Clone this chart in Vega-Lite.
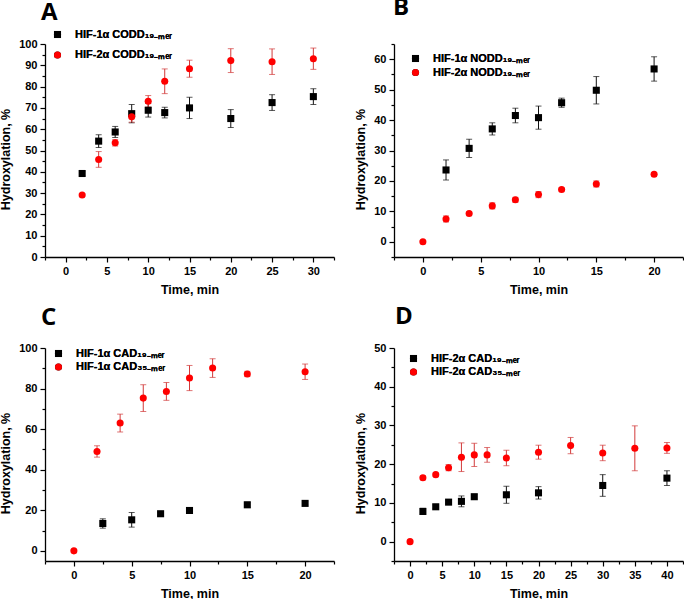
{
  "$schema": "https://vega.github.io/schema/vega-lite/v6.json",
  "padding": {"left": -1, "top": -4, "right": 0, "bottom": 0},
  "background": "white",
  "datasets": {
    "A": [
      {"t": 2, "v": 39.2, "e": 1.0, "s": "HIF-1α CODD₁₉₋ₘₑᵣ"},
      {"t": 4, "v": 54.4, "e": 3.0, "s": "HIF-1α CODD₁₉₋ₘₑᵣ"},
      {"t": 6, "v": 58.7, "e": 2.6, "s": "HIF-1α CODD₁₉₋ₘₑᵣ"},
      {"t": 8, "v": 67.3, "e": 4.3, "s": "HIF-1α CODD₁₉₋ₘₑᵣ"},
      {"t": 10, "v": 68.9, "e": 3.2, "s": "HIF-1α CODD₁₉₋ₘₑᵣ"},
      {"t": 12, "v": 67.8, "e": 2.5, "s": "HIF-1α CODD₁₉₋ₘₑᵣ"},
      {"t": 15, "v": 70.0, "e": 5.0, "s": "HIF-1α CODD₁₉₋ₘₑᵣ"},
      {"t": 20, "v": 65.0, "e": 4.2, "s": "HIF-1α CODD₁₉₋ₘₑᵣ"},
      {"t": 25, "v": 72.5, "e": 3.7, "s": "HIF-1α CODD₁₉₋ₘₑᵣ"},
      {"t": 30, "v": 75.3, "e": 3.7, "s": "HIF-1α CODD₁₉₋ₘₑᵣ"},
      {"t": 2, "v": 29.1, "e": 0.5, "s": "HIF-2α CODD₁₉₋ₘₑᵣ"},
      {"t": 4, "v": 45.8, "e": 3.7, "s": "HIF-2α CODD₁₉₋ₘₑᵣ"},
      {"t": 6, "v": 53.6, "e": 1.5, "s": "HIF-2α CODD₁₉₋ₘₑᵣ"},
      {"t": 8, "v": 65.8, "e": 2.5, "s": "HIF-2α CODD₁₉₋ₘₑᵣ"},
      {"t": 10, "v": 73.1, "e": 2.7, "s": "HIF-2α CODD₁₉₋ₘₑᵣ"},
      {"t": 12, "v": 82.5, "e": 5.8, "s": "HIF-2α CODD₁₉₋ₘₑᵣ"},
      {"t": 15, "v": 88.4, "e": 4.0, "s": "HIF-2α CODD₁₉₋ₘₑᵣ"},
      {"t": 20, "v": 92.2, "e": 5.6, "s": "HIF-2α CODD₁₉₋ₘₑᵣ"},
      {"t": 25, "v": 91.7, "e": 6.0, "s": "HIF-2α CODD₁₉₋ₘₑᵣ"},
      {"t": 30, "v": 93.1, "e": 5.0, "s": "HIF-2α CODD₁₉₋ₘₑᵣ"}
    ],
    "B": [
      {"t": 2, "v": 23.6, "e": 3.3, "s": "HIF-1α NODD₁₉₋ₘₑᵣ"},
      {"t": 4, "v": 30.7, "e": 3.0, "s": "HIF-1α NODD₁₉₋ₘₑᵣ"},
      {"t": 6, "v": 37.1, "e": 2.0, "s": "HIF-1α NODD₁₉₋ₘₑᵣ"},
      {"t": 8, "v": 41.5, "e": 2.4, "s": "HIF-1α NODD₁₉₋ₘₑᵣ"},
      {"t": 10, "v": 40.8, "e": 3.8, "s": "HIF-1α NODD₁₉₋ₘₑᵣ"},
      {"t": 12, "v": 45.7, "e": 1.5, "s": "HIF-1α NODD₁₉₋ₘₑᵣ"},
      {"t": 15, "v": 49.8, "e": 4.5, "s": "HIF-1α NODD₁₉₋ₘₑᵣ"},
      {"t": 20, "v": 56.8, "e": 4.0, "s": "HIF-1α NODD₁₉₋ₘₑᵣ"},
      {"t": 0, "v": 0.0, "e": 0.3, "s": "HIF-2α NODD₁₉₋ₘₑᵣ"},
      {"t": 2, "v": 7.5, "e": 1.0, "s": "HIF-2α NODD₁₉₋ₘₑᵣ"},
      {"t": 4, "v": 9.3, "e": 0.5, "s": "HIF-2α NODD₁₉₋ₘₑᵣ"},
      {"t": 6, "v": 11.8, "e": 1.0, "s": "HIF-2α NODD₁₉₋ₘₑᵣ"},
      {"t": 8, "v": 13.8, "e": 0.8, "s": "HIF-2α NODD₁₉₋ₘₑᵣ"},
      {"t": 10, "v": 15.5, "e": 1.0, "s": "HIF-2α NODD₁₉₋ₘₑᵣ"},
      {"t": 12, "v": 17.2, "e": 0.5, "s": "HIF-2α NODD₁₉₋ₘₑᵣ"},
      {"t": 15, "v": 19.0, "e": 1.0, "s": "HIF-2α NODD₁₉₋ₘₑᵣ"},
      {"t": 20, "v": 22.2, "e": 0.5, "s": "HIF-2α NODD₁₉₋ₘₑᵣ"}
    ],
    "C": [
      {"t": 2.5, "v": 13.5, "e": 2.3, "s": "HIF-1α CAD₁₉₋ₘₑᵣ"},
      {"t": 5, "v": 15.3, "e": 3.6, "s": "HIF-1α CAD₁₉₋ₘₑᵣ"},
      {"t": 7.5, "v": 18.3, "e": 0.8, "s": "HIF-1α CAD₁₉₋ₘₑᵣ"},
      {"t": 10, "v": 19.9, "e": 0.8, "s": "HIF-1α CAD₁₉₋ₘₑᵣ"},
      {"t": 15, "v": 22.7, "e": 1.3, "s": "HIF-1α CAD₁₉₋ₘₑᵣ"},
      {"t": 20, "v": 23.4, "e": 0.8, "s": "HIF-1α CAD₁₉₋ₘₑᵣ"},
      {"t": 0, "v": 0.0, "e": 0.5, "s": "HIF-1α CAD₃₅₋ₘₑᵣ"},
      {"t": 2, "v": 49.0, "e": 2.8, "s": "HIF-1α CAD₃₅₋ₘₑᵣ"},
      {"t": 4, "v": 63.0, "e": 4.4, "s": "HIF-1α CAD₃₅₋ₘₑᵣ"},
      {"t": 6, "v": 75.3, "e": 6.6, "s": "HIF-1α CAD₃₅₋ₘₑᵣ"},
      {"t": 8, "v": 78.6, "e": 4.4, "s": "HIF-1α CAD₃₅₋ₘₑᵣ"},
      {"t": 10, "v": 85.2, "e": 6.2, "s": "HIF-1α CAD₃₅₋ₘₑᵣ"},
      {"t": 12, "v": 90.1, "e": 4.6, "s": "HIF-1α CAD₃₅₋ₘₑᵣ"},
      {"t": 15, "v": 87.2, "e": 1.3, "s": "HIF-1α CAD₃₅₋ₘₑᵣ"},
      {"t": 20, "v": 88.3, "e": 3.8, "s": "HIF-1α CAD₃₅₋ₘₑᵣ"}
    ],
    "D": [
      {"t": 2, "v": 7.8, "e": 0.8, "s": "HIF-2α CAD₁₉₋ₘₑᵣ"},
      {"t": 4, "v": 9.0, "e": 0.5, "s": "HIF-2α CAD₁₉₋ₘₑᵣ"},
      {"t": 6, "v": 10.2, "e": 0.4, "s": "HIF-2α CAD₁₉₋ₘₑᵣ"},
      {"t": 8, "v": 10.4, "e": 1.4, "s": "HIF-2α CAD₁₉₋ₘₑᵣ"},
      {"t": 10, "v": 11.6, "e": 0.6, "s": "HIF-2α CAD₁₉₋ₘₑᵣ"},
      {"t": 15, "v": 12.1, "e": 2.2, "s": "HIF-2α CAD₁₉₋ₘₑᵣ"},
      {"t": 20, "v": 12.6, "e": 1.6, "s": "HIF-2α CAD₁₉₋ₘₑᵣ"},
      {"t": 30, "v": 14.5, "e": 2.8, "s": "HIF-2α CAD₁₉₋ₘₑᵣ"},
      {"t": 40, "v": 16.4, "e": 1.9, "s": "HIF-2α CAD₁₉₋ₘₑᵣ"},
      {"t": 0, "v": 0.0, "e": 0.3, "s": "HIF-2α CAD₃₅₋ₘₑᵣ"},
      {"t": 2, "v": 16.5, "e": 0.5, "s": "HIF-2α CAD₃₅₋ₘₑᵣ"},
      {"t": 4, "v": 17.3, "e": 0.4, "s": "HIF-2α CAD₃₅₋ₘₑᵣ"},
      {"t": 6, "v": 19.1, "e": 0.8, "s": "HIF-2α CAD₃₅₋ₘₑᵣ"},
      {"t": 8, "v": 21.8, "e": 3.7, "s": "HIF-2α CAD₃₅₋ₘₑᵣ"},
      {"t": 10, "v": 22.4, "e": 3.0, "s": "HIF-2α CAD₃₅₋ₘₑᵣ"},
      {"t": 12, "v": 22.4, "e": 1.9, "s": "HIF-2α CAD₃₅₋ₘₑᵣ"},
      {"t": 15, "v": 21.6, "e": 2.0, "s": "HIF-2α CAD₃₅₋ₘₑᵣ"},
      {"t": 20, "v": 23.1, "e": 1.8, "s": "HIF-2α CAD₃₅₋ₘₑᵣ"},
      {"t": 25, "v": 24.8, "e": 2.1, "s": "HIF-2α CAD₃₅₋ₘₑᵣ"},
      {"t": 30, "v": 22.9, "e": 2.0, "s": "HIF-2α CAD₃₅₋ₘₑᵣ"},
      {"t": 35, "v": 24.1, "e": 5.8, "s": "HIF-2α CAD₃₅₋ₘₑᵣ"},
      {"t": 40, "v": 24.2, "e": 1.4, "s": "HIF-2α CAD₃₅₋ₘₑᵣ"}
    ]
  },
  "columns": 2,
  "spacing": {"row": 91, "column": 60},
  "bounds": "flush",
  "resolve": {"scale": {"color": "independent", "shape": "independent"}, "legend": {"color": "independent", "shape": "independent"}},
  "concat": [
    {
      "width": 289, "height": 213,
      "title": {"text": "A", "anchor": "start", "frame": "group", "offset": 4, "dx": -4},
      "data": {"name": "A"},
      "encoding": {
        "x": {"field": "t", "type": "quantitative", "title": "Time, min",
              "scale": {"domain": [-2.5, 32.5], "nice": false, "zero": false},
              "axis": {"values": [-2.5, 0, 2.5, 5, 7.5, 10, 12.5, 15, 17.5, 20, 22.5, 25, 27.5, 30, 32.5],
                       "labelExpr": "datum.value % 5 === 0 ? datum.label : ''",
                       "tickSize": {"condition": {"test": "datum.value % 5 === 0", "value": 5}, "value": 3}}},
        "y": {"field": "v", "type": "quantitative", "title": "Hydroxylation, %",
              "scale": {"domain": [0, 100], "nice": false, "zero": false},
              "axis": {"values": [0, 5, 10, 15, 20, 25, 30, 35, 40, 45, 50, 55, 60, 65, 70, 75, 80, 85, 90, 95, 100],
                       "labelExpr": "datum.value % 10 === 0 ? datum.label : ''",
                       "tickSize": {"condition": {"test": "datum.value % 10 === 0", "value": 5}, "value": 3}}}
      },
      "layer": [
        {"mark": {"type": "errorbar", "ticks": {"size": 6}, "thickness": 1},
         "encoding": {"yError": {"field": "e"},
                      "color": {"field": "s", "type": "nominal", "scale": {"domain": ["HIF-1α CODD₁₉₋ₘₑᵣ", "HIF-2α CODD₁₉₋ₘₑᵣ"], "range": ["#111111", "#d23a3a"]}, "legend": null}}},
        {"mark": {"type": "point", "filled": true, "size": 50, "opacity": 1},
         "encoding": {
           "color": {"field": "s", "type": "nominal", "scale": {"domain": ["HIF-1α CODD₁₉₋ₘₑᵣ", "HIF-2α CODD₁₉₋ₘₑᵣ"], "range": ["#000000", "#ff0000"]},
                     "legend": {"title": null, "orient": "none", "legendX": 7, "legendY": -15, "rowPadding": 8.5, "labelOffset": 12}},
           "shape": {"field": "s", "type": "nominal", "scale": {"domain": ["HIF-1α CODD₁₉₋ₘₑᵣ", "HIF-2α CODD₁₉₋ₘₑᵣ"], "range": ["square", "circle"]},
                     "legend": {"title": null, "orient": "none", "legendX": 7, "legendY": -15, "rowPadding": 8.5, "labelOffset": 12}}
         }}
      ],
      "resolve": {"scale": {"color": "independent"}}
    },
    {
      "width": 289, "height": 213,
      "title": {"text": "B", "anchor": "start", "frame": "group", "offset": 18, "dx": -1},
      "data": {"name": "B"},
      "encoding": {
        "x": {"field": "t", "type": "quantitative", "title": "Time, min",
              "scale": {"domain": [-2.5, 22.5], "nice": false, "zero": false},
              "axis": {"values": [-2.5, 0, 2.5, 5, 7.5, 10, 12.5, 15, 17.5, 20, 22.5],
                       "labelExpr": "datum.value % 5 === 0 ? datum.label : ''",
                       "tickSize": {"condition": {"test": "datum.value % 5 === 0", "value": 5}, "value": 3}}},
        "y": {"field": "v", "type": "quantitative", "title": "Hydroxylation, %",
              "scale": {"domain": [-5, 65], "nice": false, "zero": false},
              "axis": {"values": [-5, 0, 5, 10, 15, 20, 25, 30, 35, 40, 45, 50, 55, 60, 65],
                       "labelExpr": "datum.value % 10 === 0 ? datum.label : ''",
                       "tickSize": {"condition": {"test": "datum.value % 10 === 0", "value": 5}, "value": 3}}}
      },
      "layer": [
        {"mark": {"type": "errorbar", "ticks": {"size": 6}, "thickness": 1},
         "encoding": {"yError": {"field": "e"},
                      "color": {"field": "s", "type": "nominal", "scale": {"domain": ["HIF-1α NODD₁₉₋ₘₑᵣ", "HIF-2α NODD₁₉₋ₘₑᵣ"], "range": ["#111111", "#d23a3a"]}, "legend": null}}},
        {"mark": {"type": "point", "filled": true, "size": 50, "opacity": 1},
         "encoding": {
           "color": {"field": "s", "type": "nominal", "scale": {"domain": ["HIF-1α NODD₁₉₋ₘₑᵣ", "HIF-2α NODD₁₉₋ₘₑᵣ"], "range": ["#000000", "#ff0000"]},
                     "legend": {"title": null, "orient": "none", "legendX": 16, "legendY": 9, "rowPadding": 2, "labelOffset": 12}},
           "shape": {"field": "s", "type": "nominal", "scale": {"domain": ["HIF-1α NODD₁₉₋ₘₑᵣ", "HIF-2α NODD₁₉₋ₘₑᵣ"], "range": ["square", "circle"]},
                     "legend": {"title": null, "orient": "none", "legendX": 16, "legendY": 9, "rowPadding": 2, "labelOffset": 12}}
         }}
      ],
      "resolve": {"scale": {"color": "independent"}}
    },
    {
      "width": 289, "height": 213,
      "title": {"text": "C", "anchor": "start", "frame": "group", "offset": 12.5, "dx": -4},
      "data": {"name": "C"},
      "encoding": {
        "x": {"field": "t", "type": "quantitative", "title": "Time, min",
              "scale": {"domain": [-2.5, 22.5], "nice": false, "zero": false},
              "axis": {"values": [-2.5, 0, 2.5, 5, 7.5, 10, 12.5, 15, 17.5, 20, 22.5],
                       "labelExpr": "datum.value % 5 === 0 ? datum.label : ''",
                       "tickSize": {"condition": {"test": "datum.value % 5 === 0", "value": 5}, "value": 3}}},
        "y": {"field": "v", "type": "quantitative", "title": "Hydroxylation, %",
              "scale": {"domain": [-5, 100], "nice": false, "zero": false},
              "axis": {"values": [0, 10, 20, 30, 40, 50, 60, 70, 80, 90, 100],
                       "labelExpr": "datum.value % 20 === 0 ? datum.label : ''",
                       "tickSize": {"condition": {"test": "datum.value % 20 === 0", "value": 5}, "value": 3}}}
      },
      "layer": [
        {"mark": {"type": "errorbar", "ticks": {"size": 6}, "thickness": 1},
         "encoding": {"yError": {"field": "e"},
                      "color": {"field": "s", "type": "nominal", "scale": {"domain": ["HIF-1α CAD₁₉₋ₘₑᵣ", "HIF-1α CAD₃₅₋ₘₑᵣ"], "range": ["#111111", "#d23a3a"]}, "legend": null}}},
        {"mark": {"type": "point", "filled": true, "size": 50, "opacity": 1},
         "encoding": {
           "color": {"field": "s", "type": "nominal", "scale": {"domain": ["HIF-1α CAD₁₉₋ₘₑᵣ", "HIF-1α CAD₃₅₋ₘₑᵣ"], "range": ["#000000", "#ff0000"]},
                     "legend": {"title": null, "orient": "none", "legendX": 8, "legendY": 0, "rowPadding": 1.5, "labelOffset": 12}},
           "shape": {"field": "s", "type": "nominal", "scale": {"domain": ["HIF-1α CAD₁₉₋ₘₑᵣ", "HIF-1α CAD₃₅₋ₘₑᵣ"], "range": ["square", "circle"]},
                     "legend": {"title": null, "orient": "none", "legendX": 8, "legendY": 0, "rowPadding": 1.5, "labelOffset": 12}}
         }}
      ],
      "resolve": {"scale": {"color": "independent"}}
    },
    {
      "width": 289, "height": 213,
      "title": {"text": "D", "anchor": "start", "frame": "group", "offset": 13, "dx": 1},
      "data": {"name": "D"},
      "encoding": {
        "x": {"field": "t", "type": "quantitative", "title": "Time, min",
              "scale": {"domain": [-2.5, 42.5], "nice": false, "zero": false},
              "axis": {"values": [-2.5, 0, 2.5, 5, 7.5, 10, 12.5, 15, 17.5, 20, 22.5, 25, 27.5, 30, 32.5, 35, 37.5, 40, 42.5],
                       "labelExpr": "datum.value % 5 === 0 ? datum.label : ''",
                       "tickSize": {"condition": {"test": "datum.value % 5 === 0", "value": 5}, "value": 3}}},
        "y": {"field": "v", "type": "quantitative", "title": "Hydroxylation, %",
              "scale": {"domain": [-5, 50], "nice": false, "zero": false},
              "axis": {"values": [-5, 0, 5, 10, 15, 20, 25, 30, 35, 40, 45, 50],
                       "labelExpr": "datum.value % 10 === 0 ? datum.label : ''",
                       "tickSize": {"condition": {"test": "datum.value % 10 === 0", "value": 5}, "value": 3}}}
      },
      "layer": [
        {"mark": {"type": "errorbar", "ticks": {"size": 6}, "thickness": 1},
         "encoding": {"yError": {"field": "e"},
                      "color": {"field": "s", "type": "nominal", "scale": {"domain": ["HIF-2α CAD₁₉₋ₘₑᵣ", "HIF-2α CAD₃₅₋ₘₑᵣ"], "range": ["#111111", "#d23a3a"]}, "legend": null}}},
        {"mark": {"type": "point", "filled": true, "size": 50, "opacity": 1},
         "encoding": {
           "color": {"field": "s", "type": "nominal", "scale": {"domain": ["HIF-2α CAD₁₉₋ₘₑᵣ", "HIF-2α CAD₃₅₋ₘₑᵣ"], "range": ["#000000", "#ff0000"]},
                     "legend": {"title": null, "orient": "none", "legendX": 14, "legendY": 5, "rowPadding": 1.5, "labelOffset": 12}},
           "shape": {"field": "s", "type": "nominal", "scale": {"domain": ["HIF-2α CAD₁₉₋ₘₑᵣ", "HIF-2α CAD₃₅₋ₘₑᵣ"], "range": ["square", "circle"]},
                     "legend": {"title": null, "orient": "none", "legendX": 14, "legendY": 5, "rowPadding": 1.5, "labelOffset": 12}}
         }}
      ],
      "resolve": {"scale": {"color": "independent"}}
    }
  ],
  "config": {
    "view": {"stroke": null},
    "axis": {
      "grid": false, "domainColor": "#000000", "domainWidth": 1.3, "tickColor": "#000000", "tickWidth": 1.2,
      "labelFont": "Liberation Sans", "labelFontWeight": "bold", "labelFontSize": 11, "labelColor": "#000000", "labelPadding": 3,
      "titleFont": "Liberation Sans", "titleFontWeight": "bold", "titleFontSize": 12.5, "titleColor": "#000000",
      "labelFlush": false, "labelOverlap": false, "labelBound": false
    },
    "axisX": {"titlePadding": 7},
    "axisY": {"titlePadding": 6, "titleY": 115},
    "legend": {
      "labelFont": "Liberation Sans", "labelFontWeight": "bold", "labelFontSize": 11, "labelColor": "#000000",
      "symbolSize": 50, "symbolStrokeWidth": 0, "padding": 0, "labelLimit": 300
    },
    "title": {"font": "Open Sans", "fontSize": 24, "fontWeight": "bold", "color": "#000000"}
  }
}
